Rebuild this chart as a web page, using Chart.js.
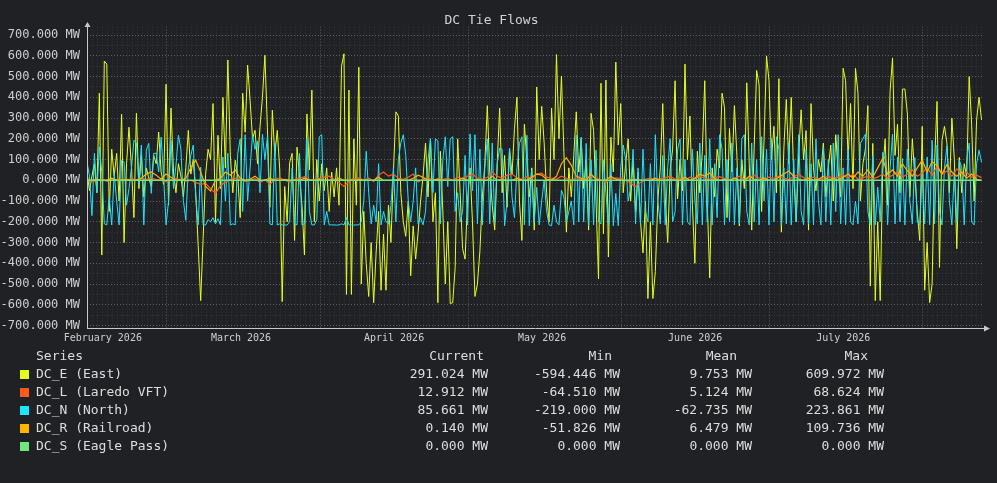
<!DOCTYPE html>
<html>
<head>
<meta charset="utf-8">
<title>DC Tie Flows</title>
<script src="https://cdn.jsdelivr.net/npm/chart.js@4.4.1/dist/chart.umd.min.js"></script>
<style>
  html, body { margin: 0; padding: 0; background: #202124; }
  body {
    width: 997px; height: 483px; position: relative; overflow: hidden;
    font-family: "DejaVu Sans Mono", monospace; color: #dedede;
  }
  #chart { position: absolute; left: 0; top: 0; }
  .lg { position: absolute; font-size: 13px; line-height: 18px; white-space: pre; }
  .sw { position: absolute; width: 9px; height: 9px; }
</style>
</head>
<body>
<canvas id="chart" width="997" height="350"></canvas>
<div id="legend"></div>
<script>
// ---- series (values in MW, evenly spaced over the time window) ----
const seriesNames = ["DC_E (East)", "DC_L (Laredo VFT)", "DC_N (North)", "DC_R (Railroad)", "DC_S (Eagle Pass)"];
const seriesColors = ["#e4ff1e", "#ff5a1c", "#1ee4ff", "#ffb400", "#6ee87c"];

const dcE = [
	40, -50, 20, 80, -60, 420, -360, 575, 560, -150,
	150, 20, 130, -100, 318, -300, 80, 256, 60, -180,
	323, -40, 120, -80, 60, 10, -30, 120, 80, 233,
	40, -20, 463, -120, 348, 40, -60, 80, 20, -80,
	60, 241, 30, 100, -60, -314, -580, -280, 29, 150,
	100, 370, -200, 217, -40, 400, 60, 580, 120, -60,
	97, 20, -180, 420, 232, 555, 386, 200, 241, 80,
	256, 400, 603, 256, -130, 338, 120, 241, 50, -585,
	-30, -200, 85, 130, -290, 160, 20, -120, -360, 320,
	50, 435, -200, 100, -100, 80, -50, 60, -150, 40,
	-80, 60, -120, 550, 610, -550, 435, -550, 200, -120,
	545, -500, -150, -400, -560, -300, -590, -350, -150, -530,
	-260, -530, -120, -300, 40, 330, 310, -60, -200, -270,
	-100, -460, -220, -380, -250, -100, 20, 180, -80, 200,
	-200, -60, -590, 140, -150, -500, -200, -594, -590, -420,
	200, -60, -330, -380, -100, 60, -200, -560, -500, -340,
	-80, 80, 360, 40, -120, -240, 80, 348, -60, 120,
	-130, 150, 30, 250, 400, -100, -290, 270, 100, -80,
	60, -240, 450, 100, 357, 180, -60, -200, 348, 100,
	606, 200, 502, 135, -250, 60, -80, 120, 330, 40,
	200, -40, 100, -240, 323, 241, -100, -475, 468, -258,
	483, -370, 208, 40, 570, 170, 370, -60, 80, 200,
	-100, 100, -150, 40, -200, -350, -100, -570, -200, -570,
	-440, -100, 60, 370, -80, -300, 50, 150, 480, -90,
	100, -50, 560, 100, 310, -120, -400, 140, -60, 140,
	480, -100, -470, 60, -80, 150, 60, 420, 350, -180,
	250, 40, 360, 120, -220, 100, -40, 470, 80, -240,
	160, 530, 460, -150, 200, 600, 480, 100, 260, -60,
	490, -250, 150, 390, 80, 400, 20, -200, 120, 340,
	100, 240, -240, 370, 60, -50, 100, 40, 180, -80,
	60, 170, -100, 220, 40, -80, 540, 480, 100, 370,
	-40, 540, 420, -100, 80, 150, 360, -510, 178, -580,
	-200, -580, 40, 200, -120, 430, 590, 120, 270, -60,
	440, 440, 320, -80, 200, 20, -150, -290, 260, -530,
	-300, -590, -500, 80, 380, -420, 193, 260, 180, -60,
	300, 100, -330, 110, -60, 80, 20, 500, 270, -100,
	290, 400, 291,
];

const dcN = [
	88, 20, -170, 130, -60, 160, 40, -210, -215, -80,
	-215, 34, -100, -215, 97, 90, -120, -40, 60, 193,
	180, -20, 170, -215, 145, 178, -63, 130, 130, 40,
	208, 20, -215, -100, 193, -40, 72, 217, 150, -97,
	-193, 60, 120, 170, -80, -215, 63, -215, -215, -190,
	-200, -180, -210, -185, -215, 112, -100, 130, -215, -210,
	-215, 130, 200, -150, 220, -100, 60, 219, 150, 190,
	-60, 222, 100, 208, -210, -215, 180, -215, -210, -215,
	-215, -216, -200, 60, -210, -215, 130, -215, -210, 200,
	-150, -215, -215, -190, 210, 220, -215, -150, -215, -215,
	-215, -216, -215, -210, -215, -180, -215, -215, -216, -215,
	-215, -200, -100, 140, -60, -210, -120, -200, 80, -215,
	-150, -200, -210, -120, 60, -200, 100, 180, 220, 120,
	-100, -200, -100, 60, -210, -180, -215, -150, 100, 200,
	-60, 200, 190, -210, 100, 210, -30, 200, 210, -150,
	-60, -200, -150, 120, -215, 224, -50, 220, -210, 150,
	-215, 60, 200, -210, 180, -200, 80, 155, 150, -219,
	-100, 155, -82, -180, 60, 178, 210, -215, 217, -219,
	48, -200, -34, -215, -100, 0, -150, -215, -219, -120,
	-200, -215, -48, -80, -200, -150, -100, -215, 217, -200,
	208, -200, 178, -219, 97, -215, 145, -200, -210, 97,
	-60, -215, 80, -219, -63, -219, 60, 170, 100, -100,
	-40, 150, -210, 60, -215, 150, -150, -200, 80, -215,
	220, -100, -210, 120, -215, 60, 200, -200, -150, 150,
	200, -215, 100, -200, -215, 150, -100, -210, 180, -215,
	120, -200, 200, -215, 80, -180, 220, 150, -215, 100,
	-200, 180, -215, 60, -210, 200, 220, -150, -215, 180,
	-200, 100, -215, 210, -100, 150, -215, 200, -200, 210,
	150, -215, 60, -210, 180, -215, 100, -200, 220, -150,
	-215, 150, -210, 80, -215, 200, -100, -215, 160, -200,
	100, -215, 180, -150, 220, -210, 60, -215, 150, -200,
	-215, -100, -210, 178, 200, 222, -150, -215, 120, -215,
	-33, -200, 135, 100, -215, 60, 223, -210, 112, -200,
	105, -215, 150, -100, -210, 110, -200, -215, 40, -210,
	112, -215, 193, -210, 170, -150, -215, 60, 165, -100,
	-215, 48, -200, 97, 60, -215, 100, 180, -200, -215,
	80, 145, 86,
];

const dcL = [
	5, -8, 0, 6, -5, 2, 0, 4, -3, 8,
	2, 10, 5, 12, 4, 0, -6, 3, 8, 2,
	-4, 0, -10, -20, -15, -40, -64, -25, -10, 5,
	10, 3, -5, 0, 8, -12, 4, -20, 5, 12,
	0, -8, 3, 10, 18, 5, 0, 8, 15, 20,
	5, -10, -30, -5, 8, 12, 0, 10, -5, 25,
	40, 20, 30, 10, 5, 15, 30, -8, 5, 12,
	0, 8, 3, 10, 0, 15, 8, 20, 30, 10,
	5, 15, 40, 20, 10, 25, 30, 12, 5, 18,
	8, 30, 35, 15, 10, 5, 20, 10, 0, 12,
	5, 8, 20, 10, 0, -10, 5, 12, 8, 0,
	-15, -30, -10, 5, 10, 0, 8, 12, 20, 5,
	10, 0, 15, 8, 20, 10, 5, 12, 18, 8,
	0, 10, 20, 5, 12, 25, 10, 5, 15, 8,
	20, 10, 5, 18, 30, 12, 8, 15, 5, 10,
	20, 8, 15, 25, 10, 30, 5, 12, 20, 8,
	15, 30, 10, 25, 40, 15, 30, 50, 20, 35,
	60, 25, 68, 30, 45, 20, 55, 30, 40, 15,
	25, 13,
];

const dcR = [
	0, 0, 5, 0, 0, 10, 0, 0, 5, 0,
	0, 10, 30, 40, 25, 5, 30, 15, 0, 0,
	10, 60, 97, 40, -30, -52, 0, 10, 40, 25,
	50, 10, 0, 5, 20, 0, 0, 10, 0, 0,
	5, 0, 0, 0, 10, 0, 0, 5, 0, 0,
	0, 10, 0, 0, 0, 5, 0, 0, 0, 15,
	0, 0, 0, 5, 0, 0, 10, 25, 15, 0,
	0, 5, 0, 0, 0, 0, 10, 0, 0, 5,
	0, 0, 20, 0, 5, 0, 0, 10, 0, 0,
	15, 30, 25, 5, 0, 20, 80, 109, 72, 20,
	10, 0, 30, 5, 0, 0, 20, 5, 0, 0,
	0, 5, 0, 0, 0, 10, 0, 0, 5, 0,
	0, 15, 0, 10, 30, 20, 35, 10, 0, 5,
	0, 10, 0, 0, 20, 5, 0, 10, 0, 0,
	15, 30, 45, 20, 5, 0, 10, 0, 5, 20,
	0, 10, 0, 15, 30, 10, 40, 20, 50, 15,
	60, 105, 30, 50, 20, 80, 45, 20, 60, 97,
	40, 90, 70, 30, 75, 40, 20, 40, 10, 30,
	5, 0,
];

const dcS = [0, 0];

// ---- legend statistics ----
const statCurrent = [291.024, 12.912, 85.661, 0.140, 0.000];
const statMin = [-594.446, -64.510, -219.000, -51.826, 0.000];
const statMean = [9.753, 5.124, -62.735, 6.479, 0.000];
const statMax = [609.972, 68.624, 223.861, 109.736, 0.000];

// ---- axes (x in days from 13 Feb 2026) ----
const monthLabels = ["February 2026", "March 2026", "April 2026", "May 2026", "June 2026", "July 2026"];
const monthLabelDays = [3, 31, 62, 92, 123, 153];
const monthStartDays = [16, 47, 77, 108, 138, 169];
const yLabelTicks = [-700, -600, -500, -400, -300, -200, -100, 0, 100, 200, 300, 400, 500, 600, 700];
const yMinorTicks = [-650, -550, -450, -350, -250, -150, -50, 50, 150, 250, 350, 450, 550, 650];

const X_MIN = -0.2;
const X_MAX = 181.3;
const DATA_END = 181.0;
const LAST_DAY = 181;

const MAJOR_GRID = "#5f6063";
const MINOR_GRID = "#36373b";
const TEXT = "#cfcfcf";

function toPoints(values) {
	let step = (DATA_END - X_MIN) / (values.length - 1);
	return values.map((v, i) => ({ x: X_MIN + i * step, y: v }));
}

const allSeries = [dcE, dcL, dcN, dcR, dcS];
const drawOrder = [5, 3, 4, 2, 1];
const lineWidths = [1, 1.2, 1, 1.2, 1.5];

let datasets = allSeries.map((values, k) => ({
	label: seriesNames[k],
	data: toPoints(values),
	borderColor: seriesColors[k],
	backgroundColor: seriesColors[k],
	borderWidth: lineWidths[k],
	pointRadius: 0,
	tension: 0,
	fill: false,
	order: drawOrder[k],
}));

// axis lines with arrow heads
const axisArrows = {
	id: "axisArrows",
	afterDraw(chart) {
		let { ctx, chartArea: a } = chart;
		let left = Math.round(a.left) + 0.5;
		let bottom = Math.round(a.bottom) + 0.5;
		ctx.save();
		ctx.strokeStyle = "#c9c9c9";
		ctx.fillStyle = "#c9c9c9";
		ctx.lineWidth = 1;
		ctx.beginPath();
		ctx.moveTo(left, bottom);
		ctx.lineTo(left, a.top);
		ctx.moveTo(left - 0.5, bottom);
		ctx.lineTo(a.right + 1, bottom);
		ctx.stroke();
		ctx.beginPath();
		ctx.moveTo(left, a.top - 4.5);
		ctx.lineTo(left - 3, a.top + 0.5);
		ctx.lineTo(left + 3, a.top + 0.5);
		ctx.closePath();
		ctx.moveTo(a.right + 7, bottom);
		ctx.lineTo(a.right + 1, bottom - 3);
		ctx.lineTo(a.right + 1, bottom + 3);
		ctx.closePath();
		ctx.fill();
		ctx.restore();
	},
};

Chart.defaults.font.family = '"DejaVu Sans Mono", monospace';
Chart.defaults.color = TEXT;

const ctx = document.getElementById("chart").getContext("2d");

new Chart(ctx, {
	type: "line",
	data: { datasets: datasets },
	plugins: [axisArrows],
	options: {
		responsive: false,
		animation: false,
		events: [],
		layout: { padding: { left: 0, right: 14, top: 0, bottom: 0 } },
		scales: {
			x: {
				type: "linear",
				min: X_MIN,
				max: X_MAX,
				afterBuildTicks: (scale) => {
					let ticks = [];
					for (let d = 0; d <= LAST_DAY; d++) ticks.push({ value: d });
					scale.ticks = ticks;
				},
				afterFit: (scale) => {
					scale.height = 22;
				},
				ticks: {
					autoSkip: false,
					maxRotation: 0,
					minRotation: 0,
					padding: 4,
					color: TEXT,
					font: { size: 10 },
					callback: (value) => {
						let k = monthLabelDays.indexOf(value);
						return k >= 0 ? monthLabels[k] : "";
					},
				},
				grid: {
					drawTicks: false,
					lineWidth: 1,
					color: (c) => (c.tick && monthStartDays.includes(c.tick.value) ? MAJOR_GRID : MINOR_GRID),
					borderDash: [1, 2],
				},
				border: { display: false, dash: [1, 2] },
			},
			y: {
				min: -712,
				max: 741,
				afterBuildTicks: (scale) => {
					scale.ticks = yLabelTicks
						.concat(yMinorTicks)
						.sort((a, b) => a - b)
						.map((v) => ({ value: v }));
				},
				afterFit: (scale) => {
					scale.width = 87;
				},
				ticks: {
					autoSkip: false,
					padding: 7,
					color: TEXT,
					font: { size: 12 },
					callback: (value) => (yLabelTicks.includes(value) ? value.toFixed(3) + " MW" : ""),
				},
				grid: {
					drawTicks: false,
					lineWidth: 1,
					color: (c) => (c.tick && yLabelTicks.includes(c.tick.value) ? MAJOR_GRID : MINOR_GRID),
					borderDash: [1, 2],
				},
				border: { display: false, dash: [1, 2] },
			},
		},
		plugins: {
			legend: { display: false },
			tooltip: { enabled: false },
			title: {
				display: true,
				text: "DC Tie Flows",
				color: "#d2d2d2",
				font: { size: 13, weight: "normal" },
				padding: { top: 13, bottom: -2 },
			},
		},
	},
});

// ---- legend table ----
const legend = document.getElementById("legend");
const PAGE_W = 997;
const HEADER_Y = 356;
const ROW_Y0 = 374;
const ROW_H = 18;
const colRight = [488, 620, 752, 884];
const headRight = [484, 612, 737, 868];
const headers = ["Current", "Min", "Mean", "Max"];
const stats = [statCurrent, statMin, statMean, statMax];

function addText(text, left, right, centerY) {
	let d = document.createElement("div");
	d.className = "lg";
	d.textContent = text;
	d.style.top = centerY - 9 + "px";
	if (left !== null) {
		d.style.left = left + "px";
	} else {
		d.style.right = PAGE_W - right + "px";
		d.style.textAlign = "right";
	}
	legend.appendChild(d);
}

const fmt = (v) => v.toFixed(3) + " MW";

addText("Series", 36, null, HEADER_Y);
headers.forEach((h, c) => addText(h, null, headRight[c], HEADER_Y));

seriesNames.forEach((name, k) => {
	let cy = ROW_Y0 + k * ROW_H;
	let sw = document.createElement("div");
	sw.className = "sw";
	sw.style.left = "20px";
	sw.style.top = cy - 4 + "px";
	sw.style.background = seriesColors[k];
	legend.appendChild(sw);
	addText(name, 36, null, cy);
	stats.forEach((col, c) => addText(fmt(col[k]), null, colRight[c], cy));
});
</script>
</body>
</html>
